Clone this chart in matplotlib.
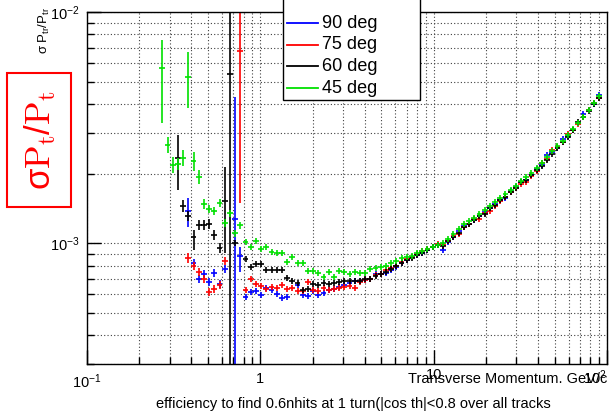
import numpy as np
import matplotlib
matplotlib.use("Agg")
import matplotlib.pyplot as plt
from matplotlib.lines import Line2D
from matplotlib.patches import Rectangle
from matplotlib.transforms import ScaledTranslation
from matplotlib.ticker import FixedLocator, FixedFormatter, NullFormatter

plt.rcParams['font.family'] = ['Liberation Sans', 'DejaVu Sans']
plt.rcParams['mathtext.fontset'] = 'custom'
plt.rcParams['mathtext.rm'] = 'Liberation Sans'
plt.rcParams['mathtext.it'] = 'Liberation Sans:italic'
plt.rcParams['mathtext.sf'] = 'Liberation Sans'
plt.rcParams['mathtext.default'] = 'regular'

nan = float('nan')
UNIT = 1e-3  # series values below are given in units of 10^-3

# ---------------- data ----------------
pt = [0.272, 0.2914, 0.3122, 0.3346, 0.3585, 0.3841, 0.4116, 0.4410, 0.4726, 0.5064,
      0.5426, 0.5814, 0.6230, 0.6675, 0.7153, 0.7664, 0.8212, 0.8800, 0.9430, 1.0104,
      1.0827, 1.1601, 1.2431, 1.3320, 1.4272, 1.5293, 1.6387, 1.7559, 1.8814, 2.0160,
      2.1602, 2.3146, 2.4801, 2.6575, 2.8475, 3.0512, 3.2694, 3.5032, 3.7537, 4.0221,
      4.3097, 4.6179, 4.9481, 5.3020, 5.6811, 6.0874, 6.5227, 6.9891, 7.4889, 8.0245,
      8.5983, 9.2131, 9.8720, 10.578, 11.334, 12.145, 13.013, 13.944, 14.941, 16.009,
      17.154, 18.381, 19.695, 21.104, 22.613, 24.230, 25.962, 27.819, 29.808, 31.939,
      34.224, 36.671, 39.293, 42.103, 45.114, 48.340, 51.797, 55.501, 59.470, 63.722,
      68.279, 73.162, 78.394, 84.000, 90.007]

res_90 = [nan, nan, nan, nan, nan, 1.376, 0.819, 0.698, 0.734, 0.678,
          0.742, 0.665, 0.772, nan, 1.270, 0.879, 0.584, 0.614, 0.620, 0.596,
          0.639, 0.626, 0.601, 0.578, 0.584, nan, 0.658, 0.596, 0.590, 0.620,
          0.596, 0.608, 0.626, 0.632, 0.645, 0.658, 0.671, 0.685, 0.685, 0.692,
          0.698, 0.734, 0.734, 0.742, 0.764, 0.787, 0.819, 0.844, 0.870, 0.887,
          0.905, 0.933, 0.961, 0.980, 0.933, 1.010, 1.062, 1.127, 1.185, 1.208,
          1.258, 1.309, 1.362, 1.418, 1.475, 1.536, 1.567, 1.680, 1.748, 1.838,
          1.875, 1.970, 2.091, 2.176, 2.404, 2.477, 2.578, 2.820, 2.905, 3.084,
          3.307, 3.617, 3.765, 3.997, 4.372]

res_75 = [nan, nan, nan, nan, nan, 0.861, 0.795, 0.749, 0.698, 0.614,
          0.632, 0.658, 0.836, nan, nan, 6.78, 0.626, 0.698, 0.665, 0.651,
          0.632, 0.645, 0.639, 0.658, 0.632, 0.639, 0.620, 0.620, 0.678, 0.626,
          0.620, 0.639, 0.626, 0.632, 0.639, 0.645, 0.651, 0.639, 0.678, 0.692,
          0.698, 0.727, 0.734, 0.764, 0.779, 0.795, 0.827, 0.853, 0.870, 0.896,
          0.923, 0.942, 0.961, 0.990, 0.980, 1.020, 1.072, 1.094, 1.173, 1.208,
          1.270, 1.270, 1.349, 1.376, 1.446, 1.520, 1.582, 1.663, 1.731, 1.801,
          1.838, 1.951, 2.050, 2.220, 2.310, 2.527, 2.604, 2.737, 2.964, 3.084,
          3.274, 3.511, 3.765, 4.037, 4.243]

res_60 = [nan, nan, nan, 2.334, 1.446, 1.309, 1.062, 1.196, 1.196, 1.208,
          1.083, 0.951, 1.520, 5.39, 1.000, nan, 0.853, 0.787, 0.811, 0.811,
          0.764, 0.764, 0.764, 0.764, 0.705, 0.685, 0.671, 0.626, 0.632, 0.665,
          0.658, 0.671, 0.665, 0.671, 0.678, 0.685, 0.685, 0.685, 0.685, 0.698,
          0.698, 0.720, 0.734, 0.749, 0.772, 0.795, 0.819, 0.844, 0.861, 0.887,
          0.905, 0.933, 0.961, 0.980, 0.971, 1.020, 1.062, 1.105, 1.173, 1.208,
          1.258, 1.309, 1.335, 1.418, 1.461, 1.536, 1.582, 1.663, 1.731, 1.838,
          1.875, 1.970, 2.071, 2.155, 2.287, 2.428, 2.578, 2.737, 2.877, 3.084,
          3.340, 3.511, 3.727, 3.997, 4.243]

res_45 = [5.72, 2.656, 2.176, 2.198, 2.334, 5.23, 2.265, 1.931, 1.475, 1.404,
          1.376, 1.490, 1.221, 1.349, 1.105, 1.196, 1.010, 0.961, 1.020, 0.942,
          0.961, 0.914, 0.905, 0.905, 0.827, 0.870, 0.819, 0.819, 0.756, 0.756,
          0.742, 0.713, 0.749, 0.713, 0.756, 0.749, 0.734, 0.749, 0.742, 0.742,
          0.772, 0.779, 0.787, 0.795, 0.819, 0.836, 0.861, 0.870, 0.879, 0.905,
          0.923, 0.942, 0.961, 0.980, 1.000, 1.041, 1.094, 1.150, 1.208, 1.245,
          1.283, 1.335, 1.390, 1.446, 1.505, 1.567, 1.630, 1.697, 1.766, 1.856,
          1.931, 2.010, 2.112, 2.220, 2.357, 2.502, 2.630, 2.764, 2.934, 3.115,
          3.307, 3.511, 3.765, 4.037, 4.329]

# typical relative error, plus read-off larger ones (relative half-size)
default_rel_err = 0.03
rel_err_90 = {6: 0.04, 7: 0.04, 8: 0.04, 9: 0.04, 10: 0.04, 11: 0.04, 12: 0.04}
rel_err_75 = {5: 0.05, 6: 0.04, 7: 0.04, 8: 0.04, 9: 0.04, 10: 0.04, 11: 0.04, 12: 0.04}
rel_err_60 = {4: 0.06, 5: 0.05, 7: 0.05, 8: 0.05, 9: 0.05, 10: 0.05, 11: 0.05, 14: 0.03}
rel_err_45 = {1: 0.08, 2: 0.08, 3: 0.06, 4: 0.08, 6: 0.09, 7: 0.07, 8: 0.05, 9: 0.04,
              10: 0.04, 11: 0.04, 12: 0.04, 13: 0.035, 14: 0.035, 15: 0.035}
# explicit error-bar bounds (low, high) in units of 10^-3
bounds_90 = {5: (1.173, 1.567), 14: (0.01, 4.286), 15: (0.749, 0.961)}
bounds_75 = {15: (1.490, 50.0)}
bounds_60 = {3: (1.697, 2.934), 6: (0.933, 1.138), 12: (0.905, 2.133), 13: (0.01, 50.0)}
bounds_45 = {0: (3.31, 7.56), 5: (3.84, 6.71)}

labels = ["90 deg", "75 deg", "60 deg", "45 deg"]
colors = ["#0000ff", "#ff0000", "#000000", "#00e000"]
series = [res_90, res_75, res_60, res_45]
rel_errs = [rel_err_90, rel_err_75, rel_err_60, rel_err_45]
bounds = [bounds_90, bounds_75, bounds_60, bounds_45]

x_tick_vals = [0.1, 1, 10, 100]
x_tick_labels = [r'$10^{-1}$', '1', '10', r'$10^{2}$']
y_tick_vals = [1e-3, 1e-2]
y_tick_labels = [r'$10^{-3}$', r'$10^{-2}$']

# ---------------- figure ----------------
W, H = 612, 413
fig = plt.figure(figsize=(W / 100, H / 100), dpi=100)
L, R, T, B = 87, 607, 12, 364
ax = fig.add_axes([L / W, 1 - B / H, (R - L) / W, (B - T) / H])
ax.set_xscale('log')
ax.set_yscale('log')
ax.set_xlim(0.1, 100)
ax.set_ylim(3e-4, 1e-2)

ax.xaxis.set_major_locator(FixedLocator(x_tick_vals))
ax.xaxis.set_major_formatter(FixedFormatter(x_tick_labels))
ax.xaxis.set_minor_locator(FixedLocator([m * d for d in (0.1, 1, 10) for m in range(2, 10)]))
ax.xaxis.set_minor_formatter(NullFormatter())
ax.yaxis.set_major_locator(FixedLocator(y_tick_vals))
ax.yaxis.set_major_formatter(FixedFormatter(y_tick_labels))
ax.yaxis.set_minor_locator(FixedLocator([m * d for d in (1e-4, 1e-3) for m in range(2, 10)]))
ax.yaxis.set_minor_formatter(NullFormatter())

ax.tick_params(which='both', direction='in', top=False, right=False, labelsize=10.5, width=1)
ax.tick_params(which='major', length=10)
ax.tick_params(which='minor', length=5)
ax.tick_params(axis='x', pad=6)
ax.tick_params(axis='y', pad=5)
for s in ax.spines.values():
    s.set_linewidth(1.0)
    s.set_color('black')

ax.set_axisbelow(True)
ax.grid(True, which='both', color='0.25', linestyle=(0, (1, 2)), linewidth=0.8)

half_bin = 10 ** 0.017
xarr = np.array(pt)
xlo = xarr - xarr / half_bin
xhi = xarr * half_bin - xarr
for vals, rel, bnd, c in zip(series, rel_errs, bounds, colors):
    y = np.array(vals) * UNIT
    lo = np.empty_like(y)
    hi = np.empty_like(y)
    for i, v in enumerate(y):
        if i in bnd:
            lo[i] = v - bnd[i][0] * UNIT
            hi[i] = bnd[i][1] * UNIT - v
        else:
            r = rel.get(i, default_rel_err)
            lo[i] = v * r
            hi[i] = v * r
    ax.errorbar(xarr, y, xerr=[xlo, xhi], yerr=[lo, hi], fmt='none',
                ecolor=c, elinewidth=1.2, capsize=0)

# the "10" and "10^2" labels sit a little higher in the reference; last one kept inside
fig.canvas.draw()
ticks = ax.xaxis.get_major_ticks()
lift = ScaledTranslation(0, 4 / 100, fig.dpi_scale_trans)
for t in ticks[2:]:
    t.label1.set_transform(t.label1.get_transform() + lift)
ticks[-1].label1.set_horizontalalignment('right')

def fx(px):
    return px / W

def fy(py):
    return 1 - py / H

# legend box
fig.add_artist(Rectangle((fx(283), fy(100)), fx(420) - fx(283), fy(-2) - fy(100),
                         transform=fig.transFigure, facecolor='white',
                         edgecolor='black', linewidth=1.0, zorder=10))
for k, (lab, c) in enumerate(zip(labels, colors)):
    yy = 23 + k * 21.7
    fig.add_artist(Line2D([fx(287), fx(318)], [fy(yy), fy(yy)], color=c,
                          linewidth=1.3, transform=fig.transFigure, zorder=11))
    fig.text(fx(322), fy(yy), lab, fontsize=13, ha='left', va='center', zorder=11)

# y-axis title
fig.text(fx(44), fy(7), r'$\sigma$ P$_{tr}$/P$_{tr}$', rotation=90,
         ha='center', va='top', fontsize=9.5)

# red boxed annotation
fig.add_artist(Rectangle((fx(7), fy(207)), fx(71) - fx(7), fy(73) - fy(207),
                         transform=fig.transFigure, facecolor='none',
                         edgecolor='red', linewidth=1.5))
fig.text(fx(40), fy(140), r'$\sigma\mathrm{P}_{\mathrm{t}}/\mathrm{P}_{\mathrm{t}}$',
         rotation=90, ha='center', va='center', fontsize=25, color='red',
         math_fontfamily='cm')

# x title and bottom caption
fig.text(fx(607), fy(379), 'Transverse Momentum. GeV/c', ha='right', va='center', fontsize=10.5)
fig.text(fx(353), fy(404), 'efficiency to find 0.6nhits at 1 turn(|cos th|<0.8 over all tracks',
         ha='center', va='center', fontsize=10.5)

fig.savefig('out.png', dpi=100)
